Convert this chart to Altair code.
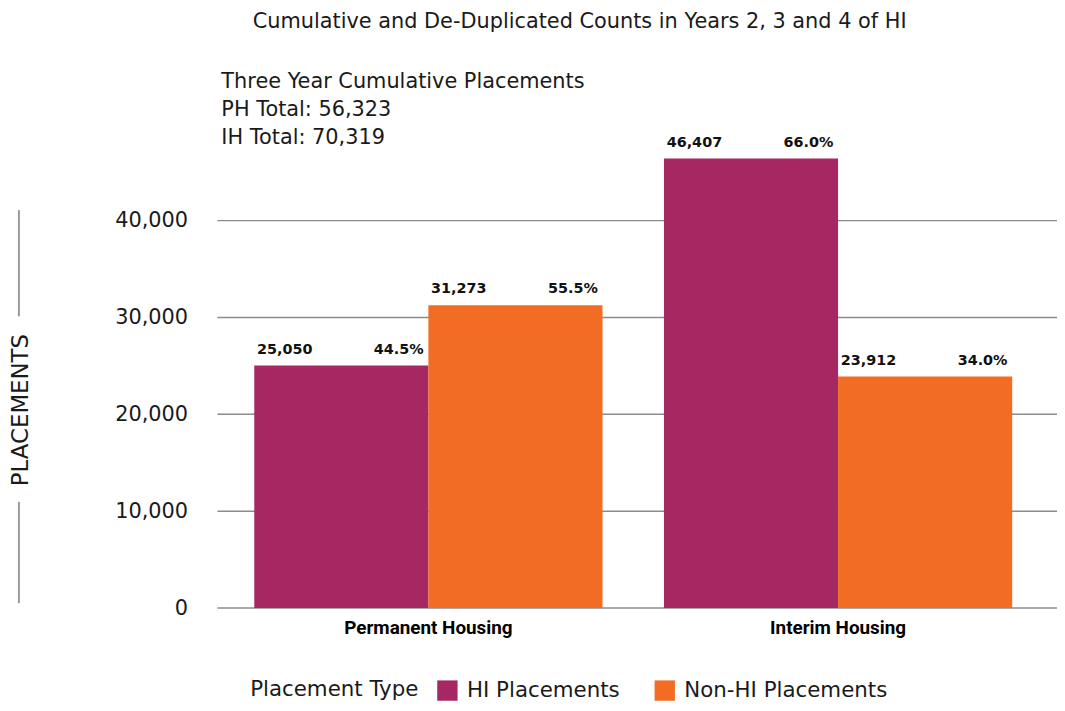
import altair as alt
import pandas as pd

categories = ["Permanent Housing", "Interim Housing"]
types = ["HI Placements", "Non-HI Placements"]
hi_values = [25050, 46407]
non_hi_values = [31273, 23912]
hi_pct = ["44.5%", "66.0%"]
non_hi_pct = ["55.5%", "34.0%"]
colors = ["#A62862", "#F26C23"]
y_ticks = [0, 10000, 20000, 30000, 40000]
annotation_lines = ["Three Year Cumulative Placements", "PH Total: 56,323", "IH Total: 70,319"]
title_text = "Cumulative and De-Duplicated Counts in Years 2, 3 and 4 of HI"

rows = []
for i, c in enumerate(categories):
    rows.append({"category": c, "type": types[0], "value": hi_values[i], "pct": hi_pct[i]})
    rows.append({"category": c, "type": types[1], "value": non_hi_values[i], "pct": non_hi_pct[i]})
df = pd.DataFrame(rows)
df["label"] = df["value"].map(lambda v: f"{v:,}")
grid_df = pd.DataFrame({"value": y_ticks})

FONT = "DejaVu Sans"
TXT = "#1a1a1a"

x_enc = alt.X("category:N", sort=categories,
              scale=alt.Scale(paddingInner=0.15, paddingOuter=0.09),
              axis=alt.Axis(title=None, labelAngle=0, labelFontSize=19, labelFontWeight="bold",
                            labelColor="#000", labelPadding=11, ticks=False, domain=False,
                            labelFont="Roboto"))
xo_enc = alt.XOffset("type:N", sort=types)
y_scale = alt.Scale(domain=[0, 50000], nice=False)
y_enc = alt.Y("value:Q", scale=y_scale,
              axis=alt.Axis(values=y_ticks, format=",.0f", labelFontSize=21, labelColor=TXT,
                            labelPadding=30, grid=False,
                            domain=False, ticks=False, title="PLACEMENTS", titleFontSize=23,
                            titleFontWeight="normal", titleColor=TXT, titleX=-198, titleY=288,
                            titleAngle=270, titleAlign="center", titleBaseline="middle"))

grid = alt.Chart(grid_df).mark_rule(color="#8c8c8c", strokeWidth=1.5).encode(
    y=alt.Y("value:Q", scale=y_scale), x=alt.value(0), x2=alt.value(846))

base = alt.Chart(df)
bars = base.mark_bar().encode(
    x=x_enc, xOffset=xo_enc, y=y_enc,
    color=alt.Color("type:N", sort=types, scale=alt.Scale(domain=types, range=colors),
                    legend=alt.Legend(title="Placement Type", orient="none", legendX=33, legendY=560,
                                      direction="horizontal", titleOrient="left", titleFontSize=21.5,
                                      titleFontWeight="normal", titleColor=TXT, labelFontSize=21.5,
                                      labelColor=TXT, symbolType="square", symbolSize=420,
                                      symbolStrokeWidth=0, symbolOpacity=1, columnPadding=34,
                                      titlePadding=18, labelOffset=9, labelLimit=0))
)
val_text = base.mark_text(align="left", baseline="alphabetic", dx=-85, dy=-12, fontSize=14.5,
                          fontWeight="bold", color="#111").encode(
    x=x_enc, xOffset=xo_enc, y=y_enc, text="label:N")
pct_text = base.mark_text(align="right", baseline="alphabetic", dx=83, dy=-12, fontSize=14.5,
                          fontWeight="bold", color="#111").encode(
    x=x_enc, xOffset=xo_enc, y=y_enc, text="pct:N")

one = alt.Chart(pd.DataFrame({"a": [0]}))
annot = one.mark_text(align="left", baseline="alphabetic", fontSize=21, lineHeight=28,
                      color=TXT).encode(x=alt.value(4), y=alt.value(-36), text=alt.value(annotation_lines))
deco1 = one.mark_rule(color="#999", strokeWidth=2).encode(x=alt.value(-200), y=alt.value(87), y2=alt.value(194))
deco2 = one.mark_rule(color="#999", strokeWidth=2).encode(x=alt.value(-200), y=alt.value(381), y2=alt.value(483))

chart = alt.layer(grid, bars, val_text, pct_text, annot, deco1, deco2).properties(
    width=838, height=488,
    padding={"left": 211, "top": 114, "right": 8, "bottom": 93},
    autosize=alt.AutoSizeParams(type="none"),
    title=alt.TitleParams(title_text, fontSize=21, fontWeight="normal", color=TXT, anchor="middle",
                          frame="group", dx=-54, offset=39),
).configure(font=FONT).configure_view(stroke=None)

chart.save("out.html", embed_options={"renderer": "svg", "actions": False})
